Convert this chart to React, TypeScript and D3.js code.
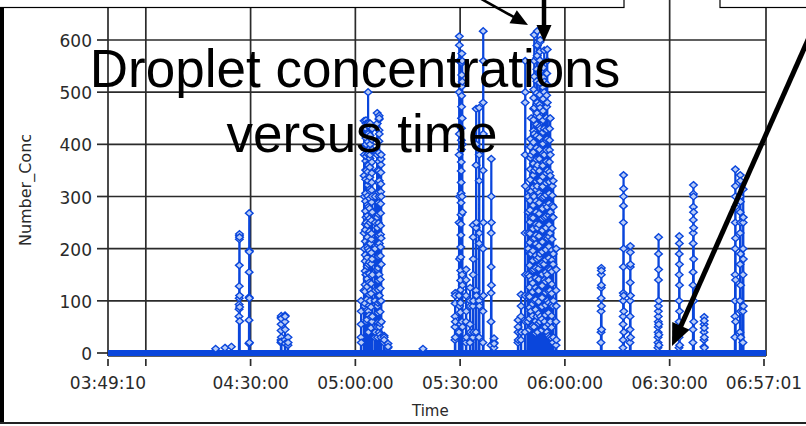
import * as d3 from "d3";
import { useEffect, useRef } from "react";

const timeStart = "03:49:10";
const timeEnd = "06:57:01";

const xTickTimes = ["03:49:10", "04:00:00", "04:30:00", "05:00:00", "05:30:00", "06:00:00", "06:30:00", "06:57:01"];
const xTickLabels = ["03:49:10", "", "04:30:00", "05:00:00", "05:30:00", "06:00:00", "06:30:00", "06:57:01"];
const yTicks = [0, 100, 200, 300, 400, 500, 600];

// start time of each burst of droplets (samples are 1 s apart)
const burstTimes = [
  "04:20:00", "04:22:40", "04:24:30", "04:26:41", "04:29:32",
  "04:38:42", "04:39:50", "04:40:42",
  "05:01:37", "05:02:28", "05:02:45", "05:03:02", "05:03:20", "05:03:37", "05:03:55", "05:04:11",
  "05:04:28", "05:04:46", "05:05:37", "05:06:11", "05:06:28", "05:06:46", "05:07:03", "05:07:20",
  "05:08:12", "05:09:20",
  "05:19:22",
  "05:28:31", "05:29:40", "05:30:05", "05:30:32", "05:31:40", "05:32:49", "05:33:41", "05:34:32",
  "05:35:24", "05:36:32", "05:38:50", "05:39:41",
  "05:46:34", "05:47:25", "05:48:34", "05:49:26", "05:49:50", "05:50:17", "05:50:43", "05:51:09",
  "05:51:35", "05:52:00", "05:52:26", "05:52:52", "05:53:25", "05:54:00", "05:54:26", "05:54:52",
  "05:55:18", "05:55:44", "05:56:10", "05:56:35", "05:57:27",
  "06:10:20", "06:16:38", "06:18:38", "06:26:39", "06:32:40", "06:36:40", "06:39:49",
  "06:48:42", "06:50:08", "06:50:59",
];

const burstValues = [
  [8], [10], [12],
  [70, 84, 93, 105, 128, 168, 218, 225, 228, 222, 110, 88, 61],
  [18, 63, 107, 155, 196, 268, 194, 105, 20],
  [20, 25, 43, 55, 68, 71, 66, 30, 22],
  [25, 60, 72, 70, 45, 18],
  [15, 30, 20],
  // 05:00 cluster
  [30, 55, 100, 80, 20],
  [120, 230, 340, 445, 420, 380, 300, 200, 90],
  [95, 118, 131, 157, 176, 188, 214, 236, 247, 272, 291, 306, 333, 351, 368, 394, 412, 428, 446, 421, 398, 377],
  [150, 260, 400, 440, 430, 350, 250, 150, 60],
  [64, 82, 103, 127, 142, 166, 183, 204, 222, 245, 263, 284, 301, 322, 347, 362, 381, 405, 423, 441, 436],
  [200, 330, 500, 440, 420, 360, 280, 170, 80, 40],
  [72, 91, 112, 135, 152, 174, 196, 211, 233, 258, 277, 296, 314, 337, 356, 373, 392, 417, 432],
  [100, 250, 380, 440, 400, 310, 210, 120],
  [48, 69, 88, 114, 133, 148, 171, 192, 218, 229, 254, 268, 289, 312, 327, 345, 366, 388, 409],
  [60, 180, 300, 430, 390, 270, 150, 70],
  [30, 100, 200, 300, 250, 120, 40],
  [50, 160, 260, 380, 460, 440, 350, 240, 160, 90, 30],
  [58, 77, 96, 121, 139, 163, 185, 207, 226, 249, 266, 288, 308, 326, 349, 367, 384, 406, 427, 448, 455],
  [40, 150, 300, 450, 420, 330, 210, 110, 50],
  [35, 57, 79, 98, 124, 141, 169, 186, 203, 227, 244, 268, 286, 309, 324, 346, 361, 372],
  [30, 100, 220, 380, 300, 170, 60],
  [20, 33, 30, 25],
  [10, 18, 12],
  [8],
  // 05:30 cluster
  [25, 50, 70, 95, 115, 110, 60, 30],
  [40, 110, 250, 380, 500, 560, 607, 590, 420, 300, 180, 90],
  [55, 78, 96, 121, 139, 158, 184, 203, 226, 247, 265, 288, 306, 327, 349, 366, 390, 408, 431, 450, 472, 493, 511, 533, 556, 574],
  [60, 150, 300, 450, 560, 520, 400, 270, 130, 50],
  [20, 60, 110, 160, 140, 80, 30],
  [20, 55, 100, 125, 90, 40],
  [30, 90, 150, 222, 245, 180, 100, 40],
  [40, 120, 240, 360, 468, 400, 250, 110],
  [30, 100, 210, 330, 470, 380, 230, 90],
  [20, 80, 200, 350, 480, 617, 560, 420, 250, 110],
  [15, 60, 115, 165, 230, 300, 372, 250, 130],
  [10, 20, 28, 18],
  // 05:50 cluster
  [20, 40, 63, 50, 25],
  [25, 70, 112, 90, 40],
  [40, 110, 230, 380, 480, 560, 500, 320, 150, 60],
  [60, 150, 230, 300, 270, 200, 110],
  [45, 66, 87, 108, 126, 147, 168, 191, 212, 229, 251, 274, 292, 310, 332, 352, 374, 395, 410],
  [80, 190, 310, 450, 380, 260, 140, 50],
  [52, 71, 94, 117, 134, 158, 177, 196, 219, 238, 259, 283, 302, 318, 341, 363, 385, 404, 426, 447, 468, 489, 505],
  [50, 160, 300, 420, 530, 610, 560, 470, 350, 220, 100],
  [38, 61, 83, 102, 125, 144, 163, 187, 209, 226, 247, 270, 291, 313, 329, 354, 371, 393, 416, 438, 455, 477, 498, 521, 544, 566, 589],
  [70, 180, 320, 460, 570, 617, 590, 480, 360, 240, 120, 40],
  [57, 76, 98, 119, 141, 162, 183, 205, 224, 246, 267, 288, 307, 331, 349, 372, 390, 413, 434, 452, 476, 495, 518, 537, 561, 578, 596],
  [60, 190, 330, 470, 600, 540, 430, 300, 170, 70],
  [44, 65, 89, 106, 129, 151, 172, 194, 213, 235, 258, 277, 298, 319, 338, 359, 382, 401, 423, 446, 464, 487, 509, 528, 547],
  [50, 170, 300, 430, 520, 580, 500, 380, 260, 140, 60],
  [50, 73, 92, 116, 137, 155, 179, 198, 221, 240, 262, 284, 303, 326, 345, 367, 389, 407, 428, 451, 472, 494, 515, 536],
  [40, 150, 280, 410, 560, 582, 480, 350, 220, 100],
  [33, 55, 77, 96, 118, 139, 161, 182, 204, 223, 246, 263, 287, 306, 328, 347, 366, 389, 408, 430, 449],
  [30, 120, 230, 340, 450, 380, 270, 160, 60],
  [28, 49, 71, 93, 114, 132, 156, 178, 197, 218, 239, 261, 283, 302, 320],
  [20, 90, 170, 260, 330, 280, 190, 100, 30],
  [15, 60, 120, 200, 160, 90, 25],
  // after 06:00
  [20, 40, 80, 105, 125, 150, 163, 158, 130, 90, 45],
  [10, 25, 55, 70, 100, 115, 165, 250, 282, 300, 341, 315, 200, 110, 80, 40],
  [20, 45, 70, 100, 135, 165, 193, 205, 170, 110, 30],
  [10, 20, 30, 40, 50, 60, 70, 80, 90, 140, 190, 222, 160, 100, 55, 35, 15],
  [10, 30, 60, 100, 150, 190, 224, 210, 170, 130, 80, 45, 15],
  [20, 45, 130, 155, 210, 230, 255, 280, 305, 322, 300, 270, 240, 180, 100, 60],
  [12, 25, 40, 55, 69, 62, 48, 30, 10],
  [30, 70, 100, 150, 200, 250, 300, 352, 320, 280, 220, 140, 60],
  [40, 100, 170, 230, 270, 300, 341, 330, 290, 250, 190, 130, 80, 30],
  [20, 80, 150, 200, 250, 314, 260, 180, 90],
];

const titleLines = ["Droplet concentrations", "versus time"];

const toSec = (s: string) => {
  const [h, m, sec] = s.split(":").map(Number);
  return h * 3600 + m * 60 + sec;
};

const BLUE = "#0a46dc";
const GRID = "#2b2b2b";
const AXIS_FONT = "'DejaVu Sans', Verdana, sans-serif";

export default function App() {
  const ref = useRef<SVGSVGElement>(null);

  useEffect(() => {
    const svg = d3.select(ref.current);
    svg.selectAll("*").remove();

    const plot = { left: 108, right: 766, top: 8, bottom: 356 };
    const x = d3.scaleLinear().domain([toSec(timeStart), toSec(timeEnd)]).range([108, 764]);
    const y = d3.scaleLinear().domain([0, 600]).range([353, 40]);

    svg.append("rect").attr("width", 806).attr("height", 426).attr("fill", "#fff");

    // grid
    const grid = svg.append("g").attr("stroke", GRID).attr("stroke-width", 1.7);
    yTicks.slice(1).forEach((v) => {
      grid.append("line").attr("x1", plot.left).attr("x2", plot.right).attr("y1", y(v)).attr("y2", y(v));
    });
    xTickTimes.slice(1, -1).forEach((t) => {
      grid.append("line").attr("x1", x(toSec(t))).attr("x2", x(toSec(t))).attr("y1", 0).attr("y2", plot.bottom);
    });
    grid.append("line").attr("x1", plot.left).attr("x2", plot.left).attr("y1", plot.top).attr("y2", plot.bottom);
    grid.append("line").attr("x1", plot.right).attr("x2", plot.right).attr("y1", plot.top).attr("y2", plot.bottom);
    grid.append("line").attr("x1", plot.left).attr("x2", plot.right).attr("y1", plot.bottom).attr("y2", plot.bottom);

    // axis ticks + labels
    const axes = svg.append("g").attr("font-family", AXIS_FONT).attr("font-size", 17).attr("fill", "#2a2a2a");
    yTicks.forEach((v) => {
      axes.append("line").attr("x1", 97).attr("x2", plot.left).attr("y1", y(v)).attr("y2", y(v)).attr("stroke", GRID).attr("stroke-width", 1.7);
      axes.append("text").attr("x", 92).attr("y", y(v) + 7).attr("text-anchor", "end").text(v);
    });
    xTickTimes.forEach((t, i) => {
      const xx = x(toSec(t));
      axes.append("line").attr("x1", xx).attr("x2", xx).attr("y1", 359).attr("y2", 366).attr("stroke", GRID).attr("stroke-width", 1.7);
      if (xTickLabels[i]) axes.append("text").attr("x", xx).attr("y", 389).attr("text-anchor", "middle").text(xTickLabels[i]);
    });
    axes.append("text").attr("x", 412).attr("y", 416).attr("font-size", 15).text("Time");
    axes
      .append("text")
      .attr("transform", "translate(31,190) rotate(-90)")
      .attr("text-anchor", "middle")
      .attr("font-size", 16)
      .text("Number_Conc");

    // data
    svg.append("defs").append("clipPath").attr("id", "plotclip").append("rect")
      .attr("x", plot.left).attr("y", plot.top).attr("width", plot.right - plot.left).attr("height", plot.bottom - plot.top);
    const data = svg.append("g").attr("clip-path", "url(#plotclip)");

    const pts: { t: number; v: number; m: boolean }[] = [{ t: toSec(timeStart), v: 0, m: false }];
    burstTimes.forEach((bt, i) => {
      const t0 = toSec(bt);
      pts.push({ t: t0 - 1, v: 0, m: false });
      burstValues[i].forEach((v, j) => pts.push({ t: t0 + j, v, m: true }));
      pts.push({ t: t0 + burstValues[i].length, v: 0, m: false });
    });
    pts.push({ t: toSec(timeEnd), v: 0, m: false });

    const line = d3.line<{ t: number; v: number }>().x((d) => x(d.t)).y((d) => y(d.v));
    data.append("path").attr("d", line(pts)).attr("fill", "none").attr("stroke", BLUE).attr("stroke-width", 2.2);
    data
      .append("path")
      .attr("d", line([{ t: toSec(timeStart), v: 0 }, { t: toSec(timeEnd) + 60, v: 0 }]))
      .attr("stroke", BLUE)
      .attr("stroke-width", 6);

    data
      .append("g")
      .selectAll("path")
      .data(pts.filter((d) => d.m))
      .join("path")
      .attr("d", "M0,-3.4L3.8,0L0,3.4L-3.8,0Z")
      .attr("transform", (d) => `translate(${x(d.t)},${y(d.v)})`)
      .attr("fill", "#b9cdf7")
      .attr("stroke", BLUE)
      .attr("stroke-width", 1.4);

    // frame of the pasted screenshot
    svg.append("rect").attr("x", 0).attr("y", 8).attr("width", 4).attr("height", 416).attr("fill", "#000");
    svg.append("line").attr("x1", 0).attr("x2", 806).attr("y1", 423).attr("y2", 423).attr("stroke", "#222").attr("stroke-width", 2);

    // title overlay
    const title = svg.append("g").attr("font-family", "'Liberation Sans', Arial, sans-serif").attr("font-size", 53).attr("fill", "#000").attr("text-anchor", "middle");
    title.append("text").attr("x", 355).attr("y", 87).text(titleLines[0]);
    title.append("text").attr("x", 362).attr("y", 152).text(titleLines[1]);

    // boxes at top
    svg.append("rect").attr("x", -2).attr("y", -2).attr("width", 626).attr("height", 9.5).attr("fill", "#fff").attr("stroke", "#000").attr("stroke-width", 1.2);
    svg.append("rect").attr("x", 720).attr("y", -2).attr("width", 90).attr("height", 9.5).attr("fill", "#fff").attr("stroke", "#000").attr("stroke-width", 1.2);

    // arrows
    const arrow = (x0: number, y0: number, x1: number, y1: number, w: number, len: number, half: number) => {
      const dx = x1 - x0, dy = y1 - y0;
      const d = Math.hypot(dx, dy);
      const ux = dx / d, uy = dy / d;
      const bx = x1 - ux * len, by = y1 - uy * len;
      svg.append("line").attr("x1", x0).attr("y1", y0).attr("x2", bx + ux * 2).attr("y2", by + uy * 2).attr("stroke", "#000").attr("stroke-width", w);
      svg.append("path")
        .attr("d", `M${x1},${y1}L${bx - uy * half},${by + ux * half}L${bx + uy * half},${by - ux * half}Z`)
        .attr("fill", "#000");
    };
    arrow(476, -4, 528, 25, 2.6, 17, 7.5);
    arrow(544, -2, 544, 42, 4.5, 17, 7.5);
    arrow(815, 24, 672, 346, 5, 22, 9.5);
  }, []);

  return (
    <div>
      <style>{"body{margin:0}"}</style>
      <svg ref={ref} width={806} height={426} style={{ display: "block" }} />
    </div>
  );
}
